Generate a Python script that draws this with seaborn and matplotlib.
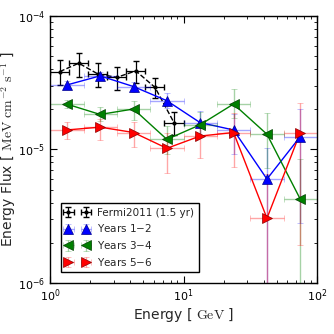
import matplotlib
matplotlib.use('Agg')

import numpy as np
import matplotlib.pyplot as plt
import seaborn as sns

# Fermi2011 (1.5 yr) points, 7 bins per decade between 1 and 10 GeV
fermi_e = [1.18, 1.64, 2.28, 3.16, 4.39, 6.11, 8.48]
fermi_elo = [1.00, 1.39, 1.93, 2.68, 3.73, 5.18, 7.20]
fermi_ehi = [1.39, 1.93, 2.68, 3.73, 5.18, 7.20, 10.0]
fermi_f = [3.83e-5, 4.43e-5, 3.68e-5, 3.47e-5, 3.88e-5, 2.92e-5, 1.59e-5]
fermi_flo = [3.04e-5, 3.52e-5, 2.95e-5, 2.79e-5, 3.13e-5, 2.42e-5, 1.29e-5]
fermi_fhi = [4.68e-5, 5.26e-5, 4.47e-5, 4.17e-5, 4.62e-5, 3.41e-5, 1.92e-5]

# yearly points, 4 bins per decade between 1 and 100 GeV
bin_e = [1.33, 2.37, 4.22, 7.50, 13.3, 23.7, 42.2, 75.0]
bin_elo = [1.00, 1.78, 3.16, 5.62, 10.0, 17.8, 31.6, 56.2]
bin_ehi = [1.78, 3.16, 5.62, 10.0, 17.8, 31.6, 56.2, 100.0]

y12_f = [3.04e-5, 3.56e-5, 2.96e-5, 2.32e-5, 1.59e-5, 1.40e-5, 6.0e-6, 1.25e-5]
y12_flo = [2.87e-5, 3.36e-5, 2.71e-5, 2.04e-5, 1.26e-5, 0.92e-5, 1e-9, 2.83e-6]
y12_fhi = [3.27e-5, 3.83e-5, 3.22e-5, 2.66e-5, 1.95e-5, 1.85e-5, 1.02e-5, 2.00e-5]

y34_f = [2.19e-5, 1.83e-5, 2.01e-5, 1.19e-5, 1.53e-5, 2.19e-5, 1.30e-5, 4.24e-6]
y34_flo = [2.04e-5, 1.63e-5, 1.66e-5, 0.92e-5, 1.26e-5, 1.71e-5, 0.73e-5, 1e-9]
y34_fhi = [2.35e-5, 2.09e-5, 2.31e-5, 1.50e-5, 1.92e-5, 2.83e-5, 1.87e-5, 8.45e-6]

y56_f = [1.40e-5, 1.47e-5, 1.34e-5, 1.02e-5, 1.26e-5, 1.34e-5, 3.05e-6, 1.34e-5]
y56_flo = [1.19e-5, 1.18e-5, 1.05e-5, 6.64e-6, 8.59e-6, 7.36e-6, 1e-9, 1.92e-6]
y56_fhi = [1.61e-5, 1.68e-5, 1.61e-5, 1.33e-5, 1.53e-5, 1.87e-5, 6.5e-6, 2.24e-5]

labels = ['Fermi2011 (1.5 yr)', 'Years 1$-$2', 'Years 3$-$4', 'Years 5$-$6']

sns.set_style('ticks')
plt.rcParams.update({
    'xtick.direction': 'in', 'ytick.direction': 'in',
    'xtick.top': True, 'ytick.right': True,
    'xtick.minor.visible': True, 'ytick.minor.visible': True,
    'xtick.major.size': 5, 'ytick.major.size': 5,
    'xtick.minor.size': 2.5, 'ytick.minor.size': 2.5,
    'xtick.color': 'k', 'ytick.color': 'k',
    'axes.edgecolor': 'k', 'axes.linewidth': 1.0,
    'xtick.labelsize': 8, 'ytick.labelsize': 8,
})
plt.rcParams['font.family'] = ['DejaVu Sans']

fig = plt.figure(figsize=(3.34, 3.34), dpi=100)
ax = fig.add_axes([0.15, 0.153, 0.799, 0.799])
ax.set_xscale('log')
ax.set_yscale('log')


def errs(v, lo, hi):
    v, lo, hi = np.array(v), np.array(lo), np.array(hi)
    return [v - lo, hi - v]


# Fermi2011
sns.lineplot(x=fermi_e, y=fermi_f, ax=ax, color='k', lw=1, ls='--', legend=False)
h0 = ax.errorbar(fermi_e, fermi_f, yerr=errs(fermi_f, fermi_flo, fermi_fhi),
                 xerr=errs(fermi_e, fermi_elo, fermi_ehi),
                 fmt='.', color='k', ms=4, elinewidth=0.9, capsize=2.5)

handles = [h0]
series = [
    (y12_f, y12_flo, y12_fhi, 'blue', '#00008b', '^'),
    (y34_f, y34_flo, y34_fhi, 'green', '#004000', '<'),
    (y56_f, y56_flo, y56_fhi, 'red', '#8b0000', '>'),
]
for f, flo, fhi, col, edge, mk in series:
    sns.lineplot(x=bin_e, y=f, ax=ax, color=col, lw=1, legend=False)
    h = ax.errorbar(bin_e, f, yerr=errs(f, flo, fhi), xerr=errs(bin_e, bin_elo, bin_ehi),
                    fmt=mk, color=col, ms=6.5, mec=edge, mew=0.5,
                    ecolor=matplotlib.colors.to_rgba(col, 0.35),
                    elinewidth=1, capsize=2.5)
    handles.append(h)

ax.set_xlim(1, 100)
ax.set_ylim(1e-6, 1e-4)

ax.set_xlabel(r'Energy [ $\mathrm{GeV}$ ]', fontsize=10, math_fontfamily='cm', labelpad=1)
ax.set_ylabel(r'Energy Flux [ $\mathrm{MeV\ cm^{-2}\ s^{-1}}$ ]', fontsize=10,
              math_fontfamily='cm', labelpad=0)

leg = ax.legend(handles, labels, loc='lower left', numpoints=2, fontsize=7.5,
                fancybox=False, framealpha=1, edgecolor='k',
                borderaxespad=1.0, handlelength=2.3, labelspacing=0.45,
                borderpad=0.45)
leg.get_frame().set_linewidth(1.0)

fig.savefig('out.png', dpi=100)
